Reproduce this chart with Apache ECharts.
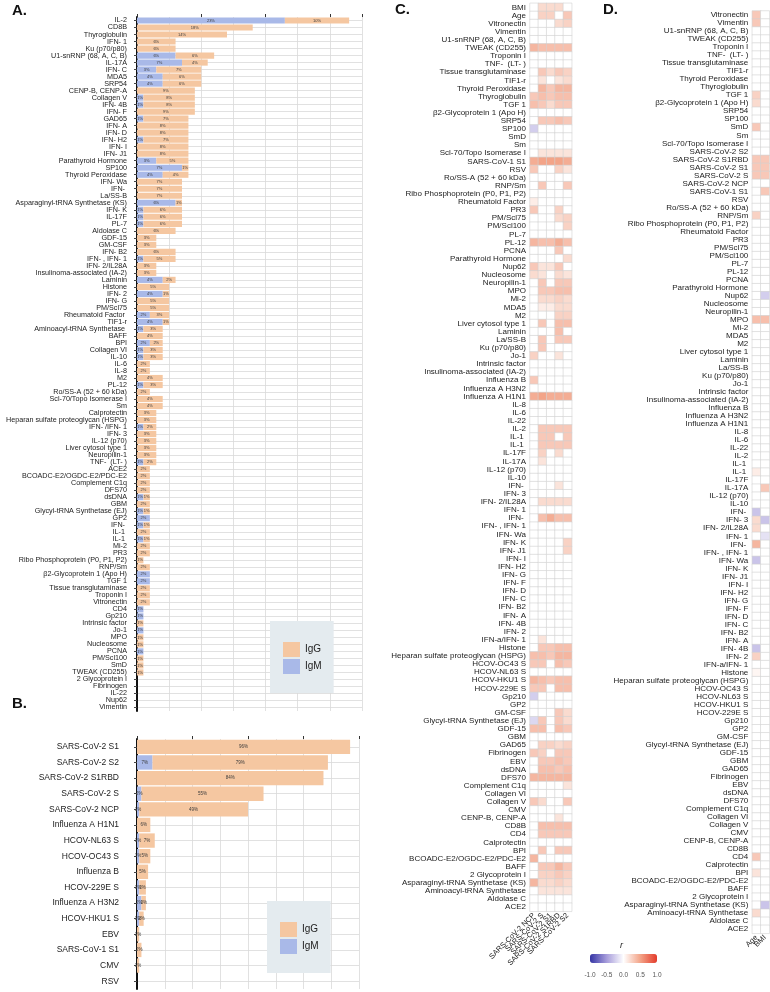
<!DOCTYPE html>
<html>
<head>
<meta charset="utf-8">
<script src="https://cdn.jsdelivr.net/npm/echarts@6/dist/echarts.min.js"></script>
<style>
html,body{margin:0;padding:0;background:#fff;}
#main{width:770px;height:992px;}
</style>
</head>
<body>
<div id="main"></div>
<script>
var FONT = '"Liberation Sans", Arial, sans-serif';
var TXT = '#222222';
var GRIDC = '#d9d9d9';
var IGG = '#f5c7a1';
var IGM = '#a9b9e8';

// panel A: prevalence of autoantibodies (%)
var catsA = ['IL-2','CD8B','Thyroglobulin','IFN- 1','Ku (p70/p80)','U1-snRNP (68, A, C, B)','IL-17A','IFN- C','MDA5','SRP54',
  'CENP-B, CENP-A','Collagen V','IFN- 4B','IFN- F','GAD65','IFN- A','IFN- D','IFN- H2','IFN- I','IFN- J1',
  'Parathyroid Hormone','SP100','Thyroid Peroxidase','IFN- Wa','IFN- ','La/SS-B','Asparaginyl-tRNA Synthetase (KS)','IFN- K','IL-17F','PL-7',
  'Aldolase C','GDF-15','GM-CSF','IFN- B2','IFN- , IFN- 1','IFN- 2/IL28A','Insulinoma-associated (IA-2)','Laminin','Histone','IFN- 2',
  'IFN- G','PM/Scl75','Rheumatoid Factor ','TIF1-r','Aminoacyl-tRNA Synthetase ','BAFF','BPI','Collagen VI','IL-10','IL-6',
  'IL-8','M2','PL-12','Ro/SS-A (52 + 60 kDa)','Scl-70/Topo Isomerase I','Sm','Calprotectin','Heparan sulfate proteoglycan (HSPG)','IFN- /IFN- 1','IFN- 3',
  'IL-12 (p70)','Liver cytosol type 1','Neuropilin-1','TNF-  (LT- )','ACE2','BCOADC-E2/OGDC-E2/PDC-E2','Complement C1q','DFS70','dsDNA','GBM',
  'Glycyl-tRNA Synthetase (EJ)','GP2','IFN- ','IL-1 ','IL-1 ','Mi-2','PR3','Ribo Phosphoprotein (P0, P1, P2)','RNP/Sm','β2-Glycoprotein 1 (Apo H)',
  'TGF 1','Tissue transglutaminase','Troponin I','Vitronectin','CD4','Gp210','Intrinsic factor','Jo-1','MPO','Nucleosome',
  'PCNA','PM/Scl100','SmD','TWEAK (CD255)','2 Glycoprotein I','Fibrinogen','IL-22','Nup62','Vimentin'];
var igmA = [23,0,0,0,0,6,7,3,4,4, 0,1,1,0,1,0,0,1,0,0, 3,7,4,0,0,0,6,1,1,1, 0,0,0,0,1,0,0,4,0,4,
  0,0,2,4,1,0,2,1,1,0, 0,0,1,0,0,0,0,0,1,0, 0,0,0,1,0,0,0,0,1,0, 1,2,1,0,1,0,0,0,0,2,
  2,0,0,0,1,1,0,1,0,0, 1,0,0,0,0,0,0,0,0];
var iggA = [10,18,14,6,6,6,4,7,6,6, 9,8,8,9,7,8,8,7,8,8, 5,1,4,7,7,7,1,6,6,6, 6,3,3,6,5,3,3,2,5,1,
  5,5,3,1,3,4,2,3,3,2, 2,4,3,2,4,4,3,3,2,3, 3,3,3,2,2,2,2,2,1,2, 1,0,1,2,1,2,2,1,2,0,
  0,2,2,2,0,0,1,0,1,1, 0,1,1,1,0,0,0,0,0];

// panel B
var catsB = ['SARS-CoV-2 S1','SARS-CoV-2 S2','SARS-CoV-2 S1RBD','SARS-CoV-2 S','SARS-CoV-2 NCP','Influenza A H1N1','HCOV-NL63 S','HCOV-OC43 S',
  'Influenza B','HCOV-229E S','Influenza A H3N2','HCOV-HKU1 S','EBV','SARS-CoV-1 S1','CMV','RSV'];
var igmB = [0,7,0,2,1,0,1,1,0,1,2,1,0,0,0,0];
var iggB = [96,79,84,55,49,6,7,5,5,3,2,2,1,2,1,0];

// panel C: correlation with SARS-CoV-2 antigens
var colsC = ['SARS-CoV-2 NCP','SARS-CoV-2 S','SARS-CoV-2 S1','SARS-CoV-2 S1RBD','SARS-CoV-2 S2'];
var rowsC = ['BMI','Age','Vitronectin','Vimentin','U1-snRNP (68, A, C, B)','TWEAK (CD255)','Troponin I','TNF-  (LT- )','Tissue transglutaminase','TIF1-r',
  'Thyroid Peroxidase','Thyroglobulin','TGF 1','β2-Glycoprotein 1 (Apo H)','SRP54','SP100','SmD','Sm','Scl-70/Topo Isomerase I','SARS-CoV-1 S1',
  'RSV','Ro/SS-A (52 + 60 kDa)','RNP/Sm','Ribo Phosphoprotein (P0, P1, P2)','Rheumatoid Factor','PR3','PM/Scl75','PM/Scl100','PL-7','PL-12',
  'PCNA','Parathyroid Hormone','Nup62','Nucleosome','Neuropilin-1','MPO','Mi-2','MDA5','M2','Liver cytosol type 1',
  'Laminin','La/SS-B','Ku (p70/p80)','Jo-1','Intrinsic factor','Insulinoma-associated (IA-2)','Influenza B','Influenza A H3N2','Influenza A H1N1','IL-8',
  'IL-6','IL-22','IL-2','IL-1 ','IL-1 ','IL-17F','IL-17A','IL-12 (p70)','IL-10','IFN- ',
  'IFN- 3','IFN- 2/IL28A','IFN- 1','IFN- ','IFN- , IFN- 1','IFN- Wa','IFN- K','IFN- J1','IFN- I','IFN- H2',
  'IFN- G','IFN- F','IFN- D','IFN- C','IFN- B2','IFN- A','IFN- 4B','IFN- 2','IFN-a/IFN- 1','Histone',
  'Heparan sulfate proteoglycan (HSPG)','HCOV-OC43 S','HCOV-NL63 S','HCOV-HKU1 S','HCOV-229E S','Gp210','GP2','GM-CSF','Glycyl-tRNA Synthetase (EJ)','GDF-15',
  'GBM','GAD65','Fibrinogen','EBV','dsDNA','DFS70','Complement C1q','Collagen VI','Collagen V','CMV',
  'CENP-B, CENP-A','CD8B','CD4','Calprotectin','BPI','BCOADC-E2/OGDC-E2/PDC-E2','BAFF','2 Glycoprotein I','Asparaginyl-tRNA Synthetase (KS)','Aminoacyl-tRNA Synthetase',
  'Aldolase C','ACE2'];
var ncpC = [0,0,0,0,0,.4,0,0,0,0, 0,.3,.35,0,0,-.25,0,0,0,.45, .3,0,0,0,.1,.3,0,0,0,.4,
  0,0,.3,.2,0,0,0,0,0,0, 0,0,0,.25,0,0,.3,0,.45,0, 0,0,0,0,0,0,0,0,0,0,
  0,0,0,0,0,0,0,0,0,0, 0,0,0,0,0,0,0,0,0,0, .35,.3,0,.4,.3,-.25,0,0,-.2,.35,
  0,0,.3,0,0,.4,0,0,.3,0, 0,0,0,0,0,.4,0,0,.4,0, 0,0];
var sC = [.2,.25,0,0,0,.35,0,0,.3,.15, .4,.35,.3,0,.3,0,0,0,.15,.5, 0,0,.3,0,0,0,0,0,0,.35,
  0,0,.15,.15,.3,.3,.2,.1,0,.3, 0,.3,.3,0,0,0,0,0,.5,0, 0,0,.3,.3,.3,.25,.15,0,0,0,
  0,.2,0,.35,0,0,0,0,0,0, 0,0,0,0,0,0,0,0,.15,.3, .35,.3,0,.35,.3,0,0,0,.3,.35,
  0,.25,.25,.3,.35,.4,0,0,.2,0, 0,.35,.3,0,.3,0,.3,.25,.2,.15, 0,0];
var s1C = [.2,.25,0,0,0,.35,0,0,.2,0, .3,.3,.2,0,.3,0,0,0,.15,.5, 0,0,0,0,0,0,0,0,0,.35,
  0,0,.15,0,0,.3,.2,.1,0,0, 0,0,0,0,0,0,0,0,.45,0, 0,0,.3,.3,.3,0,0,0,0,0,
  0,.2,0,.45,0,0,0,0,0,0, 0,0,0,0,0,0,0,0,0,.3, .3,0,0,.3,0,0,0,0,0,0,
  0,.25,0,.3,.35,.4,0,0,0,0, 0,.35,.3,0,0,0,.3,.25,.2,.15, 0,0];
var s1rbdC = [.2,0,.2,0,0,.35,0,0,.3,.15, .4,.35,.3,0,.35,0,0,0,.15,.5, .25,0,0,0,0,.25,.2,0,0,.45,
  .3,0,.3,.2,.3,.35,.25,.2,.25,.35, .35,.3,0,.15,0,0,0,0,.45,0, 0,0,.3,0,.3,.2,0,0,0,.15,
  0,.2,0,.35,0,0,0,0,0,0, 0,0,0,0,0,0,0,0,0,.35, .4,.35,0,.35,.35,0,0,.3,.3,.35,
  0,.2,.3,.35,.3,.4,0,0,0,0, .15,.35,.3,0,.3,0,.4,.3,.25,.15, 0,0];
var s2C = [0,.3,.25,0,0,.35,0,0,.25,.2, .4,.35,.3,0,.3,0,0,0,.15,.45, .15,0,.3,0,0,0,.25,.25,0,.35,
  0,.2,0,.15,.3,.35,.2,.2,.25,.35, 0,.3,0,0,0,0,0,0,.45,0, 0,0,.3,.3,.3,0,0,0,0,0,
  0,.2,0,.35,0,0,.25,.25,0,0, 0,0,0,0,0,0,0,0,0,.35, .4,.3,0,.35,.35,0,0,.2,.2,.3,
  0,.25,.3,.3,.35,.4,.15,0,.3,0, 0,.35,.3,0,.3,0,.3,.25,.2,.15, 0,0];

// panel D: correlation with age and BMI
var colsD = ['Age','BMI'];
var rowsD = ['Vitronectin','Vimentin','U1-snRNP (68, A, C, B)','TWEAK (CD255)','Troponin I','TNF-  (LT- )','Tissue transglutaminase','TIF1-r','Thyroid Peroxidase','Thyroglobulin',
  'TGF 1','β2-Glycoprotein 1 (Apo H)','SRP54','SP100','SmD','Sm','Scl-70/Topo Isomerase I','SARS-CoV-2 S2','SARS-CoV-2 S1RBD','SARS-CoV-2 S1',
  'SARS-CoV-2 S','SARS-CoV-2 NCP','SARS-CoV-1 S1','RSV','Ro/SS-A (52 + 60 kDa)','RNP/Sm','Ribo Phosphoprotein (P0, P1, P2)','Rheumatoid Factor','PR3','PM/Scl75',
  'PM/Scl100','PL-7','PL-12','PCNA','Parathyroid Hormone','Nup62','Nucleosome','Neuropilin-1','MPO','Mi-2',
  'MDA5','M2','Liver cytosol type 1','Laminin','La/SS-B','Ku (p70/p80)','Jo-1','Intrinsic factor','Insulinoma-associated (IA-2)','Influenza B',
  'Influenza A H3N2','Influenza A H1N1','IL-8','IL-6','IL-22','IL-2','IL-1 ','IL-1 ','IL-17F','IL-17A',
  'IL-12 (p70)','IL-10','IFN- ','IFN- 3','IFN- 2/IL28A','IFN- 1','IFN- ','IFN- , IFN- 1','IFN- Wa','IFN- K',
  'IFN- J1','IFN- I','IFN- H2','IFN- G','IFN- F','IFN- D','IFN- C','IFN- B2','IFN- A','IFN- 4B',
  'IFN- 2','IFN-a/IFN- 1','Histone','Heparan sulfate proteoglycan (HSPG)','HCOV-OC43 S','HCOV-NL63 S','HCOV-HKU1 S','HCOV-229E S','Gp210','GP2',
  'GM-CSF','Glycyl-tRNA Synthetase (EJ)','GDF-15','GBM','GAD65','Fibrinogen','EBV','dsDNA','DFS70','Complement C1q',
  'Collagen VI','Collagen V','CMV','CENP-B, CENP-A','CD8B','CD4','Calprotectin','BPI','BCOADC-E2/OGDC-E2/PDC-E2','BAFF',
  '2 Glycoprotein I','Asparaginyl-tRNA Synthetase (KS)','Aminoacyl-tRNA Synthetase','Aldolase C','ACE2'];
var ageD = [.3,.3,0,0,0,0,0,0,0,0, .25,.2,0,0,.3,0,0,0,.3,.3, .3,0,0,0,0,.25,0,0,0,0,
  0,0,0,0,0,0,0,0,.35,0, 0,0,0,0,0,0,0,0,0,0, 0,0,0,0,0,0,0,.1,0,0,
  0,0,-.3,.2,.2,0,.4,0,-.3,0, 0,0,0,0,0,0,0,0,0,-.3, .25,0,.05,0,0,0,0,0,0,0,
  0,0,0,0,0,0,0,0,0,0, 0,0,0,0,0,.3,0,.15,0,0, 0,0,.2,0,0];
var bmiD = [0,0,0,0,0,0,0,0,0,0, 0,0,0,0,0,0,0,0,.3,.3, .3,0,.3,0,0,0,0,0,0,0,
  0,0,0,0,0,-.25,0,0,.35,0, 0,0,0,0,0,0,0,0,0,0, 0,0,0,0,0,0,0,0,0,.3,
  0,0,0,-.3,0,-.15,0,0,0,0, 0,0,0,0,0,0,0,0,0,0, 0,0,0,0,0,0,0,0,0,0,
  0,0,0,0,0,0,0,0,0,0, 0,0,0,0,0,0,0,0,0,0, 0,-.3,0,0,0];

var rTicks = [-1, -0.5, 0, 0.5, 1];

function cells(cols) {
  var out = [];
  for (var c = 0; c < cols.length; c++) {
    for (var r = 0; r < cols[c].length; r++) {
      out.push([c, r, cols[c][r]]);
    }
  }
  return out;
}

function pctLabel(size) {
  return {
    show: true, position: 'inside', fontSize: size, color: '#3a3a3a', fontFamily: FONT,
    formatter: function (p) { return p.value > 0 ? p.value + '%' : ''; }
  };
}

function barX(idx, max, interval) {
  return {
    gridIndex: idx, type: 'value', position: 'top', min: 0, max: max, interval: interval,
    axisLine: {show: false},
    axisTick: {show: true, length: 3, lineStyle: {color: '#333'}},
    axisLabel: {show: false},
    splitLine: {show: true, lineStyle: {color: GRIDC, width: 0.8}},
    minorTick: {show: false, splitNumber: 2},
    minorSplitLine: {show: true, lineStyle: {color: GRIDC, width: 0.8}}
  };
}

function barY(idx, cats, size, margin) {
  return {
    gridIndex: idx, type: 'category', data: cats, inverse: true,
    axisLine: {show: true, lineStyle: {color: '#111', width: 2}},
    axisTick: {show: true, length: 3, alignWithLabel: true, lineStyle: {color: '#444'}},
    axisLabel: {fontSize: size, color: TXT, margin: margin, interval: 0, fontFamily: FONT},
    splitLine: {show: true, alignWithLabel: true, lineStyle: {color: GRIDC, width: 0.8}}
  };
}

function heatX(idx, cats) {
  return {
    gridIndex: idx, type: 'category', data: cats, position: 'bottom',
    axisLine: {show: false}, axisTick: {show: false},
    axisLabel: {rotate: 45, fontSize: 7.5, color: TXT, margin: 3, interval: 0, fontFamily: FONT},
    splitLine: {show: false}, splitArea: {show: false}
  };
}

function heatY(idx, cats) {
  return {
    gridIndex: idx, type: 'category', data: cats, inverse: true,
    axisLine: {show: false}, axisTick: {show: false},
    axisLabel: {fontSize: 8, color: TXT, margin: 4, interval: 0, fontFamily: FONT},
    splitLine: {show: false}, splitArea: {show: false}
  };
}

function legendBox(left, top) {
  return {
    data: ['IgG', 'IgM'], orient: 'vertical', left: left, top: top,
    itemWidth: 17, itemHeight: 15, itemGap: 2, icon: 'rect',
    padding: [21, 12, 19, 13], backgroundColor: '#e4ebef',
    textStyle: {fontSize: 10, color: '#222', fontFamily: FONT},
    selectedMode: false
  };
}

function panelTitle(txt, x, y) {
  return {type: 'text', left: x, top: y, style: {text: txt, font: 'bold 15px ' + FONT, fill: '#111'}};
}

var myChart = echarts.init(document.getElementById('main'), null, {renderer: 'canvas'});
var option = {
  backgroundColor: '#ffffff',
  animation: false,
  textStyle: {fontFamily: FONT},
  grid: [
    {left: 137, top: 17, width: 225, height: 694},
    {left: 137, top: 739, width: 222, height: 250},
    {left: 530, top: 3.3, width: 41.7, height: 908},
    {left: 752.3, top: 11, width: 17, height: 922.3},
    {left: 590, top: 954, width: 67, height: 9}
  ],
  xAxis: [
    barX(0, 35, 10),
    barX(1, 100, 25),
    heatX(2, colsC),
    heatX(3, colsD),
    {
      gridIndex: 4, type: 'value', min: rTicks[0], max: rTicks[rTicks.length - 1], interval: 0.5,
      axisLine: {show: false},
      axisTick: {show: true, inside: true, length: 2, lineStyle: {color: '#ffffff'}},
      axisLabel: {fontSize: 6.5, color: '#555', margin: 9, formatter: function (v) { return v.toFixed(1); }},
      splitLine: {show: false}
    }
  ],
  yAxis: [
    barY(0, catsA, 7.2, 10),
    barY(1, catsB, 8.5, 18),
    heatY(2, rowsC),
    heatY(3, rowsD),
    {gridIndex: 4, type: 'value', show: false, min: 0, max: 1}
  ],
  visualMap: {
    type: 'continuous', min: -1, max: 1, seriesIndex: [4, 5],
    orient: 'horizontal', left: 590, top: 954, itemWidth: 9, itemHeight: 67,
    calculable: false, padding: 0, hoverLink: false,
    inRange: {color: ['#3535a5', '#a79ddb', '#ffffff', '#f3a488', '#e43b2b']}
  },
  legend: [legendBox(270, 621), legendBox(267, 901)],
  graphic: [
    panelTitle('A.', 12, 3),
    panelTitle('B.', 12, 696),
    panelTitle('C.', 395, 2),
    panelTitle('D.', 603, 2),
    {type: 'text', left: 620, top: 941, style: {text: 'r', font: 'italic 9px ' + FONT, fill: '#222'}}
  ],
  series: [
    {name: 'IgM', type: 'bar', xAxisIndex: 0, yAxisIndex: 0, stack: 'a', data: igmA,
      barCategoryGap: '12%', itemStyle: {color: IGM}, label: pctLabel(4), emphasis: {disabled: true}},
    {name: 'IgG', type: 'bar', xAxisIndex: 0, yAxisIndex: 0, stack: 'a', data: iggA,
      barCategoryGap: '12%', itemStyle: {color: IGG}, label: pctLabel(4), emphasis: {disabled: true}},
    {name: 'IgM', type: 'bar', xAxisIndex: 1, yAxisIndex: 1, stack: 'b', data: igmB,
      barCategoryGap: '8%', itemStyle: {color: IGM}, label: pctLabel(4.5), emphasis: {disabled: true}},
    {name: 'IgG', type: 'bar', xAxisIndex: 1, yAxisIndex: 1, stack: 'b', data: iggB,
      barCategoryGap: '8%', itemStyle: {color: IGG}, label: pctLabel(4.5), emphasis: {disabled: true}},
    {type: 'heatmap', xAxisIndex: 2, yAxisIndex: 2, data: cells([ncpC, sC, s1C, s1rbdC, s2C]),
      itemStyle: {borderColor: '#d2d2d2', borderWidth: 0.6}, emphasis: {disabled: true}},
    {type: 'heatmap', xAxisIndex: 3, yAxisIndex: 3, data: cells([ageD, bmiD]),
      itemStyle: {borderColor: '#d2d2d2', borderWidth: 0.6}, emphasis: {disabled: true}}
  ]
};
myChart.setOption(option);
</script>
</body>
</html>
